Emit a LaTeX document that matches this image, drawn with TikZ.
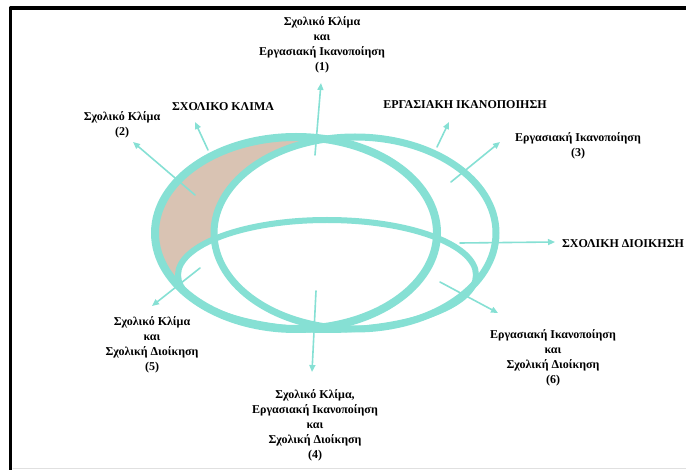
\documentclass[tikz,border=0pt]{standalone}
\usepackage{fontspec}
\setmainfont{Liberation Serif}
\usetikzlibrary{arrows.meta}
\definecolor{xanhngoc}{HTML}{86E0D4}
\definecolor{nau}{HTML}{D9C3B3}
\begin{document}
\begin{tikzpicture}[x=1pt, y=-1pt, line join=round, line cap=round, >={Triangle[length=7pt,width=6pt]},
	vong/.style={draw=xanhngoc, line width=7pt},
	muiten/.style={->, draw=xanhngoc, line width=1.6pt},
	nhan/.style={font=\fontsize{12}{15}\selectfont\bfseries, align=center, inner sep=0pt}]
	\useasboundingbox (0,0) rectangle (686,470);
	%% khung
	\draw[line width=3.5pt, line cap=butt] (10.5,470) -- (10.5,8) -- (686,8);
	\draw[black!12, line width=1pt] (13,468) -- (686,468);
	%% tam cac ellipse
	\path 
	(296,233) coordinate (A)
	(355,233) coordinate (B)
	(327,275) coordinate (C)
	;
	\fill[nau] (A) ellipse [x radius=141pt, y radius=96pt];
	\fill[white] (B) ellipse [x radius=141pt, y radius=96pt]
	(C) ellipse [x radius=149pt, y radius=55pt];
	\draw[vong, line width=8pt] (A) ellipse [x radius=141pt, y radius=96pt];
	\draw[vong] (B) ellipse [x radius=141pt, y radius=96pt];
	\draw[vong, line width=6pt] (C) ellipse [x radius=149pt, y radius=55pt];
	%% nhan
	\node[nhan] (n1) at (322,45) {Σχολικό Κλίμα\\και\\Εργασιακή Ικανοποίηση\\(1)};
	\node[nhan] (nA) at (223,107) {ΣΧΟΛΙΚΟ ΚΛΙΜΑ};
	\node[nhan] (n2) at (122,125) {Σχολικό Κλίμα\\(2)};
	\node[nhan] (nB) at (465,105) {ΕΡΓΑΣΙΑΚΗ ΙΚΑΝΟΠΟΙΗΣΗ};
	\node[nhan] (n3) at (578,146) {Εργασιακή Ικανοποίηση\\(3)};
	\node[nhan] (nC) at (623,244) {ΣΧΟΛΙΚΗ ΔΙΟΙΚΗΣΗ};
	\node[nhan] (n6) at (553,358) {Εργασιακή Ικανοποίηση\\και\\Σχολική Διοίκηση\\(6)};
	\node[nhan] (n4) at (315,425) {Σχολικό Κλίμα,\\Εργασιακή Ικανοποίηση\\και\\Σχολική Διοίκηση\\(4)};
	\node[nhan] (n5) at (152,345) {Σχολικό Κλίμα\\και\\Σχολική Διοίκηση\\(5)};
	%% diem dau, diem cuoi mui ten
	\path 
	(315,155) coordinate (p1) (321,83) coordinate (q1)
	(208,150) coordinate (pA) (195,122) coordinate (qA)
	(195,195) coordinate (p2) (133,142) coordinate (q2)
	(437,147) coordinate (pB) (449,122) coordinate (qB)
	(451,182) coordinate (p3) (500,142) coordinate (q3)
	(460,243) coordinate (pC) (555,242) coordinate (qC)
	(440,282) coordinate (p6) (498,313) coordinate (q6)
	(316,291) coordinate (p4) (312,372) coordinate (q4)
	(200,268) coordinate (p5) (152,306) coordinate (q5)
	;
	\foreach \x in {1,A,2,B,3,C,6,4,5}
	\draw[muiten] (p\x)--(q\x);
\end{tikzpicture}
\end{document}
